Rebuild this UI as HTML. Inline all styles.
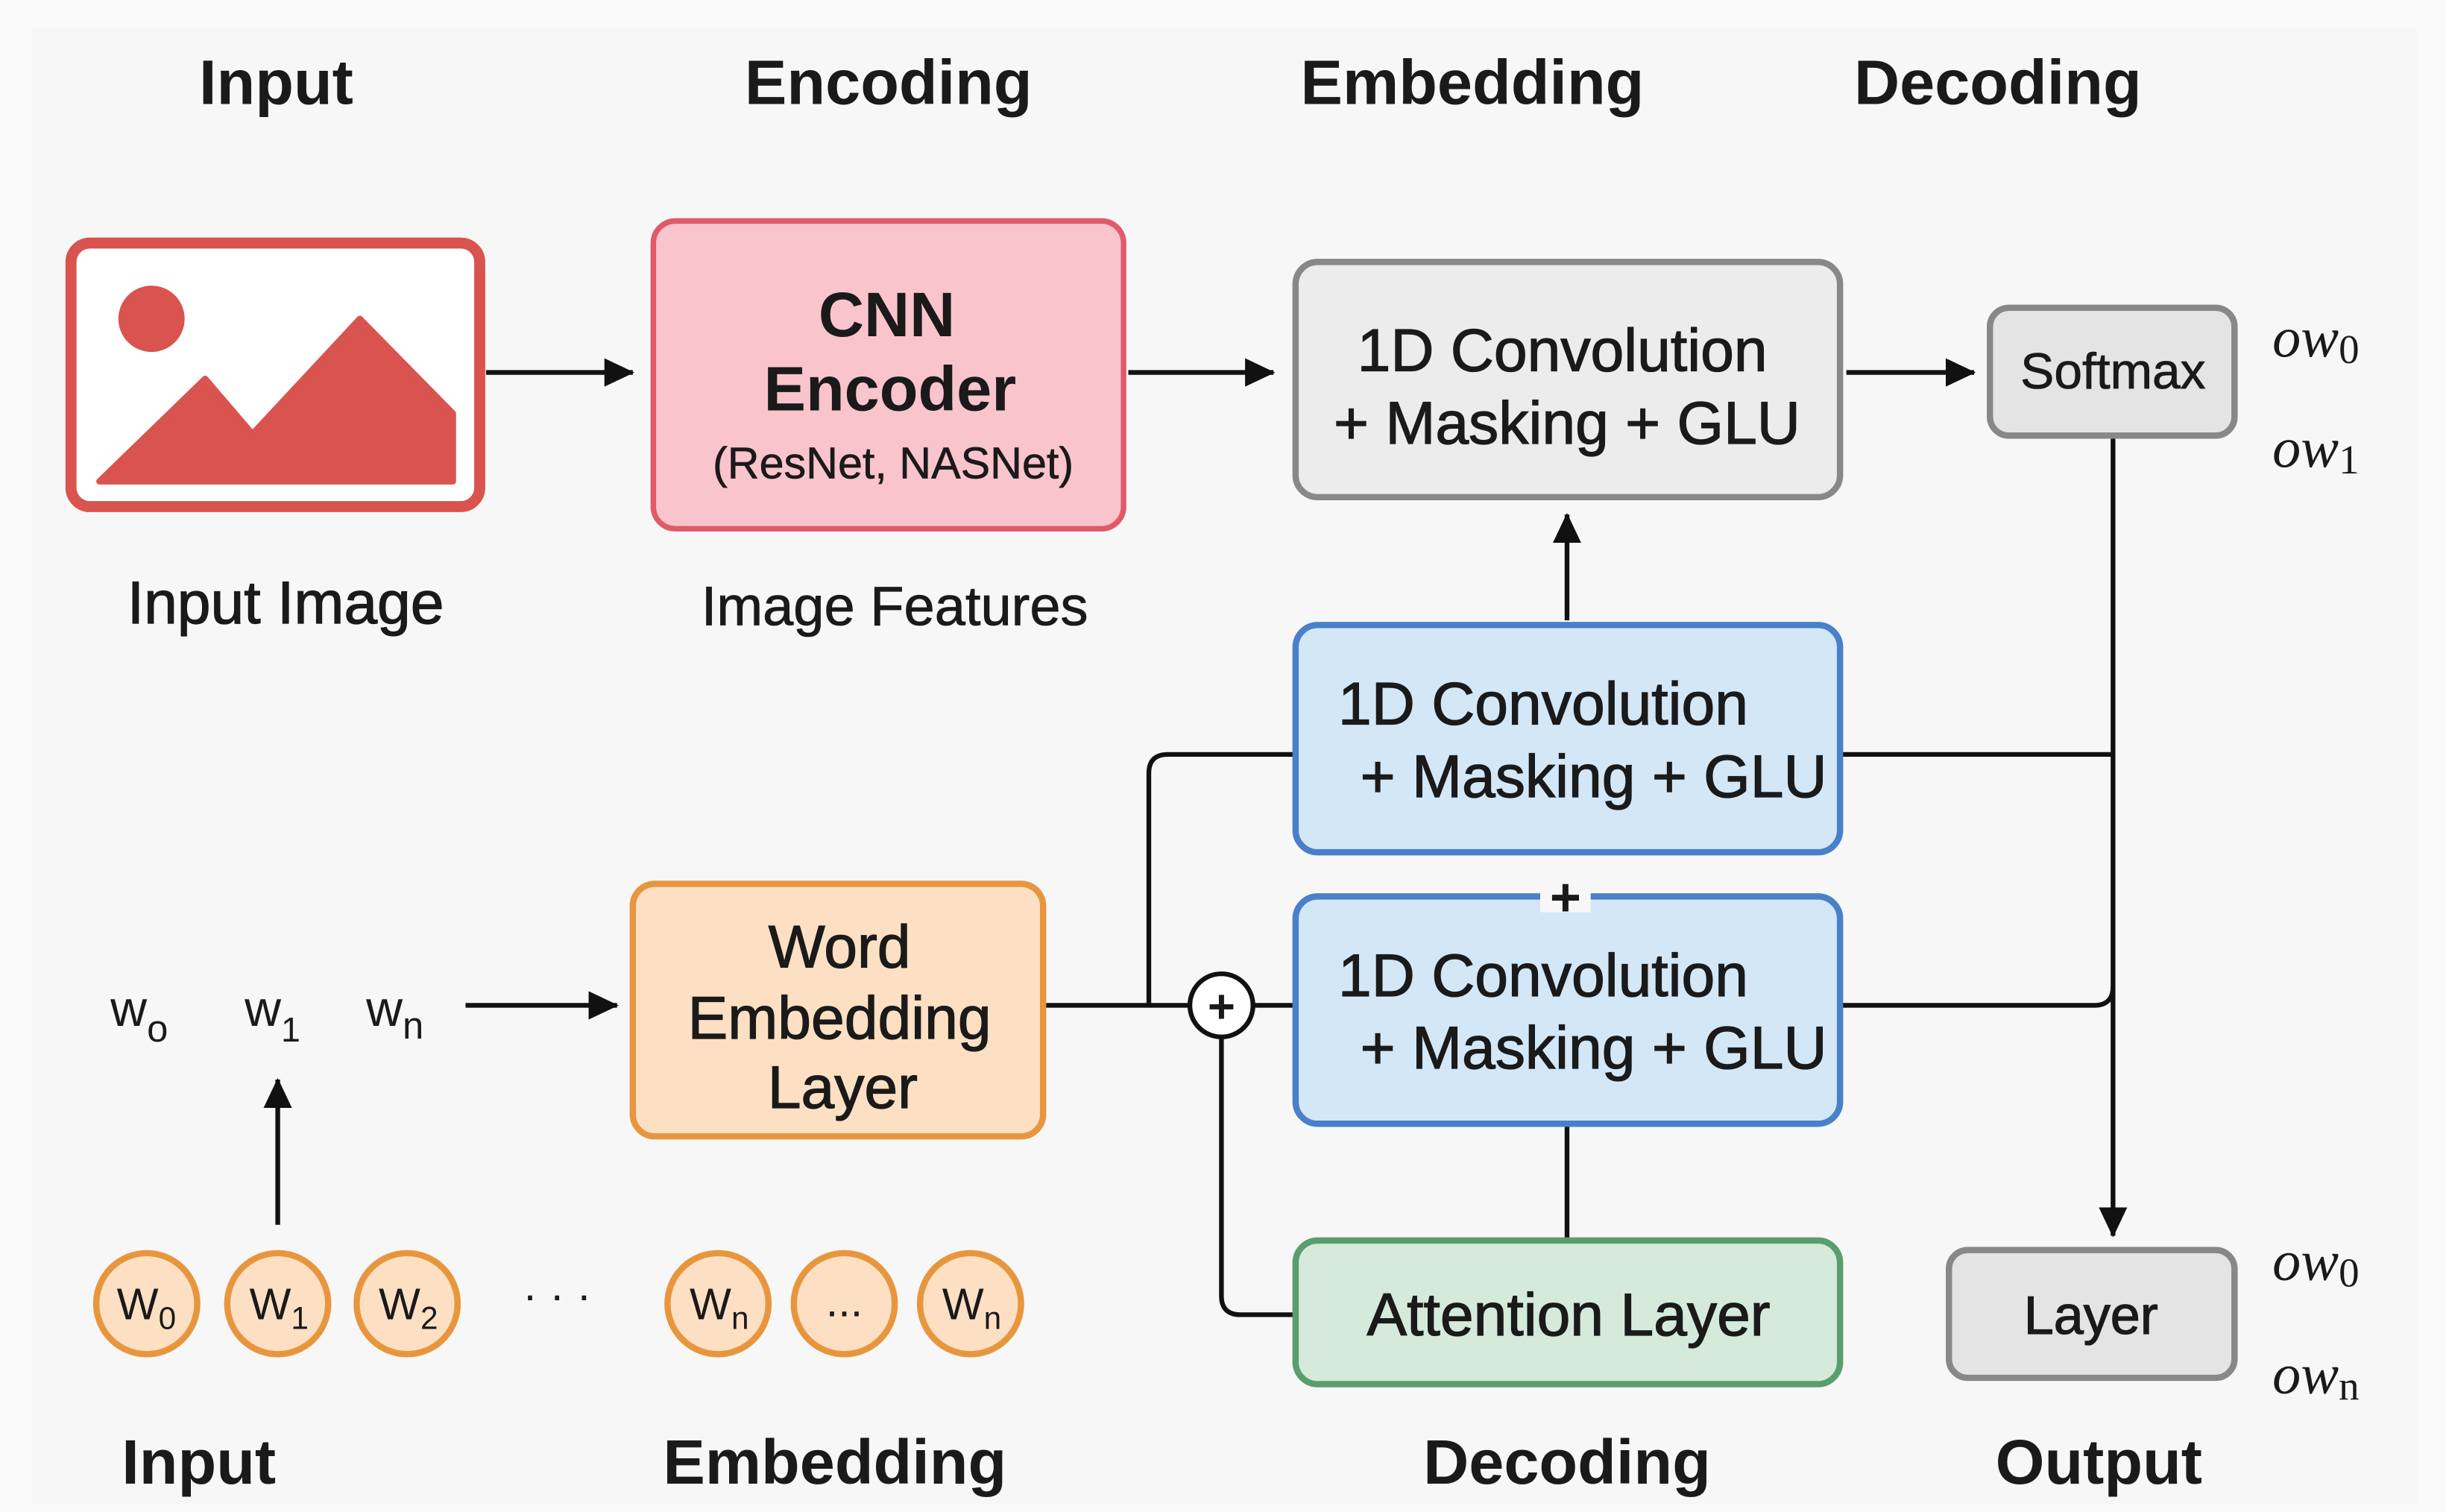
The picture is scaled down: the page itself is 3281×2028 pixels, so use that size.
<!DOCTYPE html>
<html><head><meta charset="utf-8"><style>
html,body{margin:0;padding:0;background:#fafafa}
svg{display:block}
text{font-family:"Liberation Sans","DejaVu Sans",sans-serif;fill:#1a1a1a}
.h{font-size:40px;font-weight:bold;text-anchor:middle}
.b{font-size:38px;text-anchor:middle}
.bx{stroke:#1a1a1a;stroke-width:0.6}
.m{font-family:"Liberation Serif",serif;font-style:italic;font-size:36px}
.c{font-size:28px;text-anchor:middle}
</style></head><body>
<svg width="3281" height="2028" viewBox="0 0 1550 958" preserveAspectRatio="none" xmlns="http://www.w3.org/2000/svg">
<defs>
<marker id="a2" markerWidth="22" markerHeight="22" refX="18" refY="9" orient="auto" markerUnits="userSpaceOnUse"><path d="M0,0 L19,9 L0,18 z" fill="#111"/></marker></defs>
<rect x="0" y="0" width="1550" height="958" fill="#fafafa"/>
<rect x="20" y="18" width="1512" height="935" fill="#f7f7f7"/>
<text class="h" x="175" y="66">Input</text>
<text class="h" x="563" y="66">Encoding</text>
<text class="h" x="933" y="66">Embedding</text>
<text class="h" x="1266" y="66">Decoding</text>
<rect x="45" y="154" width="259" height="167" rx="12" fill="#fff" stroke="#d9534f" stroke-width="7"/>
<circle cx="96" cy="202" r="21" fill="#d9534f"/>
<path d="M63,305 L130,240 L160,275 L228,202 L287,262 L287,305 Z" fill="#d9534f" stroke="#d9534f" stroke-linejoin="round" stroke-width="4"/>
<g stroke="#111" stroke-width="3" fill="none">
<line x1="308" y1="236" x2="401" y2="236" marker-end="url(#a2)"/>
<line x1="715" y1="236" x2="807" y2="236" marker-end="url(#a2)"/>
<line x1="1170" y1="236" x2="1251" y2="236" marker-end="url(#a2)"/>
<line x1="993" y1="393" x2="993" y2="326" marker-end="url(#a2)"/>
<line x1="1339" y1="278" x2="1339" y2="783" marker-end="url(#a2)"/>
<line x1="1166" y1="478" x2="1339" y2="478"/>
<path d="M1166,637 L1327,637 Q1339,637 1339,625"/>
<line x1="662" y1="637" x2="754" y2="637"/>
<line x1="794" y1="637" x2="821" y2="637"/>
<path d="M728,637 L728,490 Q728,478 740,478 L821,478"/>
<path d="M774,657 L774,821 Q774,833 786,833 L821,833"/>
<line x1="993" y1="712" x2="993" y2="786"/>
<line x1="295" y1="637" x2="391" y2="637" marker-end="url(#a2)"/>
<line x1="176" y1="776" x2="176" y2="684" marker-end="url(#a2)"/>
</g>
<circle cx="774" cy="637" r="20" fill="#fff" stroke="#111" stroke-width="3"/>
<text x="774" y="648" style="font-size:30px;font-weight:bold;text-anchor:middle">+</text>
<rect x="414" y="140" width="298" height="195" rx="14" fill="#f9c4cb" stroke="#e05a6a" stroke-width="3.5"/>
<text class="h" x="562" y="213">CNN</text>
<text class="h" x="564" y="260">Encoder</text>
<text class="c bx" style="stroke-width:0.3" x="566" y="303">(ResNet, NASNet)</text>
<rect x="821" y="166" width="345" height="149" rx="14" fill="#ececec" stroke="#888" stroke-width="4"/>
<text class="b bx" x="990" y="235">1D Convolution</text>
<text class="b bx" x="993" y="281">+ Masking + GLU</text>
<rect x="1261" y="195" width="155" height="81" rx="12" fill="#e4e4e4" stroke="#888" stroke-width="4"/>
<text class="bx" x="1339" y="246" style="font-size:32px;text-anchor:middle;stroke-width:0.4">Softmax</text>
<text class="m" x="1440" y="226">ow<tspan font-size="26" dy="4" font-style="normal">0</tspan></text>
<text class="m" x="1440" y="296">ow<tspan font-size="26" dy="4" font-style="normal">1</tspan></text>
<text class="bx" x="181" y="395" style="font-size:38px;text-anchor:middle">Input Image</text>
<text class="bx" x="567" y="396" style="font-size:35px;text-anchor:middle;stroke-width:0.4">Image Features</text>
<rect x="821" y="396" width="345" height="144" rx="14" fill="#d3e7f7" stroke="#4a7fc9" stroke-width="4"/>
<text class="bx" x="848" y="459" style="font-size:38px">1D Convolution</text>
<text class="bx" x="862" y="505" style="font-size:38px">+ Masking + GLU</text>
<rect x="821" y="568" width="345" height="144" rx="14" fill="#d3e7f7" stroke="#4a7fc9" stroke-width="4"/>
<text class="bx" x="848" y="631" style="font-size:38px">1D Convolution</text>
<text class="bx" x="862" y="677" style="font-size:38px">+ Masking + GLU</text>
<rect x="976" y="558" width="32" height="20" fill="#f7f7f7"/>
<text x="992" y="580" style="font-size:34px;font-weight:bold;text-anchor:middle">+</text>
<rect x="821" y="786" width="345" height="91" rx="14" fill="#d5eadb" stroke="#5a9e6e" stroke-width="4"/>
<text class="b bx" x="994" y="846">Attention Layer</text>
<rect x="1235" y="792" width="181" height="81" rx="12" fill="#e4e4e4" stroke="#888" stroke-width="4"/>
<text class="bx" x="1325" y="845" style="font-size:34px;text-anchor:middle">Layer</text>
<text class="m" x="1440" y="811">ow<tspan font-size="26" dy="4" font-style="normal">0</tspan></text>
<text class="m" x="1440" y="883">ow<tspan font-size="26" dy="4" font-style="normal">n</tspan></text>
<rect x="401" y="560" width="260" height="160" rx="14" fill="#fde0c4" stroke="#e8963e" stroke-width="4"/>
<text class="b bx" x="532" y="613">Word</text>
<text class="b bx" x="532" y="658">Embedding</text>
<text class="b bx" x="534" y="702">Layer</text>
<text x="70" y="650" style="font-size:32px">w<tspan font-size="24" dy="10">o</tspan></text>
<text x="155" y="650" style="font-size:32px">w<tspan font-size="22" dy="10">1</tspan></text>
<text x="232" y="650" style="font-size:32px">w<tspan font-size="24" dy="8">n</tspan></text>
<g fill="#fde0c4" stroke="#e8963e" stroke-width="4">
<circle cx="93" cy="826" r="32"/><circle cx="176" cy="826" r="32"/><circle cx="258" cy="826" r="32"/>
<circle cx="455" cy="826" r="32"/><circle cx="535" cy="826" r="32"/><circle cx="615" cy="826" r="32"/>
</g>
<g style="font-size:28px">
<text x="74" y="836">W<tspan font-size="20" dy="6">0</tspan></text>
<text x="158" y="836">W<tspan font-size="20" dy="6">1</tspan></text>
<text x="240" y="836">W<tspan font-size="20" dy="6">2</tspan></text>
<text x="437" y="836">W<tspan font-size="20" dy="6">n</tspan></text>
<text x="535" y="834" text-anchor="middle">...</text>
<text x="597" y="836">W<tspan font-size="20" dy="6">n</tspan></text>
<text x="353" y="830" text-anchor="middle">· · ·</text>
</g>
<text class="h" x="126" y="940">Input</text>
<text class="h" x="529" y="940">Embedding</text>
<text class="h" x="993" y="940">Decoding</text>
<text class="h" x="1330" y="940">Output</text>
</svg>
</body></html>
